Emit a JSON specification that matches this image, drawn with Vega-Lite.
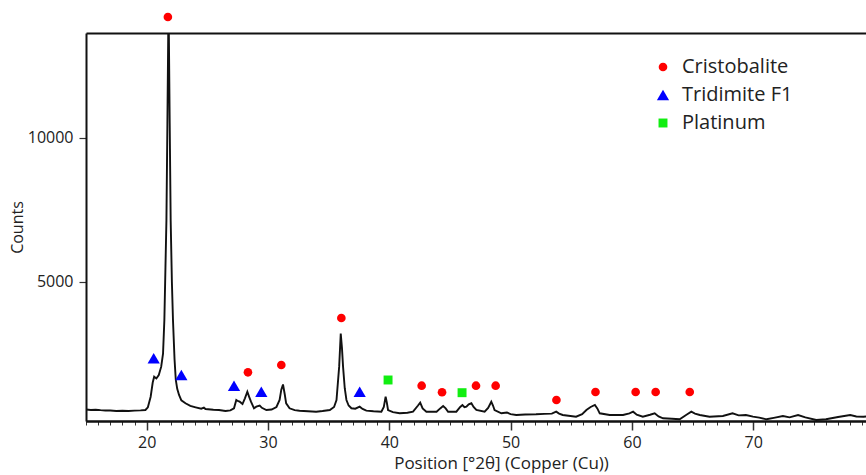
{
  "$schema": "https://vega.github.io/schema/vega-lite/v6.json",
  "autosize": {"type": "none"},
  "padding": {"left": 86, "top": 33, "right": 0, "bottom": 54},
  "width": 780,
  "height": 388,
  "config": {
    "font": "Open Sans",
    "view": {"stroke": null},
    "axis": {"grid": false, "domainColor": "#111111", "domainWidth": 2, "tickColor": "#333333", "labelColor": "#222222", "titleColor": "#222222", "titleFontWeight": "normal"}
  },
  "datasets": {
    "spectrum": [
      {"pos": 15.0, "counts": 560}, {"pos": 15.4, "counts": 545}, {"pos": 15.8, "counts": 555}, {"pos": 16.2, "counts": 540},
      {"pos": 16.6, "counts": 530}, {"pos": 17.0, "counts": 525}, {"pos": 17.5, "counts": 512}, {"pos": 18.0, "counts": 518},
      {"pos": 18.5, "counts": 510}, {"pos": 19.0, "counts": 525}, {"pos": 19.5, "counts": 532}, {"pos": 19.9, "counts": 545},
      {"pos": 20.1, "counts": 640}, {"pos": 20.33, "counts": 1007}, {"pos": 20.5, "counts": 1500}, {"pos": 20.62, "counts": 1700},
      {"pos": 20.8, "counts": 1640}, {"pos": 21.0, "counts": 1760}, {"pos": 21.2, "counts": 2050}, {"pos": 21.35, "counts": 2500},
      {"pos": 21.46, "counts": 3670}, {"pos": 21.55, "counts": 5500}, {"pos": 21.63, "counts": 7135}, {"pos": 21.71, "counts": 10500},
      {"pos": 21.78, "counts": 13635}, {"pos": 21.83, "counts": 13635}, {"pos": 21.9, "counts": 10500}, {"pos": 21.98, "counts": 7135},
      {"pos": 22.08, "counts": 5000}, {"pos": 22.17, "counts": 3670}, {"pos": 22.3, "counts": 2300}, {"pos": 22.4, "counts": 1600},
      {"pos": 22.52, "counts": 1280}, {"pos": 22.67, "counts": 1066}, {"pos": 22.86, "counts": 880}, {"pos": 23.2, "counts": 778},
      {"pos": 23.6, "counts": 690}, {"pos": 24.04, "counts": 639}, {"pos": 24.5, "counts": 590}, {"pos": 24.72, "counts": 625},
      {"pos": 24.85, "counts": 580}, {"pos": 25.5, "counts": 555}, {"pos": 25.96, "counts": 545}, {"pos": 26.5, "counts": 510},
      {"pos": 26.9, "counts": 530}, {"pos": 27.2, "counts": 604}, {"pos": 27.39, "counts": 892}, {"pos": 27.55, "counts": 850},
      {"pos": 27.67, "counts": 833}, {"pos": 27.9, "counts": 753}, {"pos": 28.1, "counts": 950}, {"pos": 28.3, "counts": 1180},
      {"pos": 28.45, "counts": 1000}, {"pos": 28.6, "counts": 833}, {"pos": 28.85, "counts": 604}, {"pos": 29.04, "counts": 660},
      {"pos": 29.32, "counts": 700}, {"pos": 29.5, "counts": 620}, {"pos": 29.87, "counts": 545}, {"pos": 30.3, "counts": 560},
      {"pos": 30.7, "counts": 650}, {"pos": 30.96, "counts": 892}, {"pos": 31.1, "counts": 1250}, {"pos": 31.24, "counts": 1430},
      {"pos": 31.38, "counts": 1100}, {"pos": 31.5, "counts": 778}, {"pos": 31.78, "counts": 604}, {"pos": 32.2, "counts": 540},
      {"pos": 32.6, "counts": 521}, {"pos": 33.3, "counts": 500}, {"pos": 33.97, "counts": 486}, {"pos": 34.5, "counts": 510},
      {"pos": 35.1, "counts": 545}, {"pos": 35.45, "counts": 650}, {"pos": 35.65, "counts": 892}, {"pos": 35.87, "counts": 2050},
      {"pos": 36.0, "counts": 3200}, {"pos": 36.1, "counts": 2700}, {"pos": 36.19, "counts": 2050}, {"pos": 36.33, "counts": 1300},
      {"pos": 36.47, "counts": 892}, {"pos": 36.65, "counts": 700}, {"pos": 36.88, "counts": 604}, {"pos": 37.2, "counts": 590},
      {"pos": 37.56, "counts": 660}, {"pos": 37.8, "counts": 580}, {"pos": 38.11, "counts": 521}, {"pos": 38.7, "counts": 500},
      {"pos": 39.35, "counts": 486}, {"pos": 39.55, "counts": 650}, {"pos": 39.7, "counts": 1007}, {"pos": 39.8, "counts": 800},
      {"pos": 39.9, "counts": 545}, {"pos": 40.3, "counts": 470}, {"pos": 40.86, "counts": 430}, {"pos": 41.5, "counts": 450},
      {"pos": 41.96, "counts": 486}, {"pos": 42.37, "counts": 700}, {"pos": 42.55, "counts": 800}, {"pos": 42.75, "counts": 600},
      {"pos": 43.06, "counts": 486}, {"pos": 43.9, "counts": 486}, {"pos": 44.2, "counts": 600}, {"pos": 44.44, "counts": 684},
      {"pos": 44.65, "counts": 600}, {"pos": 44.85, "counts": 486}, {"pos": 45.53, "counts": 486}, {"pos": 45.85, "counts": 650},
      {"pos": 46.03, "counts": 719}, {"pos": 46.2, "counts": 640}, {"pos": 46.36, "counts": 660}, {"pos": 46.55, "counts": 740},
      {"pos": 46.77, "counts": 778}, {"pos": 46.95, "counts": 650}, {"pos": 47.18, "counts": 545}, {"pos": 47.86, "counts": 486},
      {"pos": 48.15, "counts": 620}, {"pos": 48.41, "counts": 833}, {"pos": 48.55, "counts": 700}, {"pos": 48.68, "counts": 545},
      {"pos": 49.24, "counts": 430}, {"pos": 49.7, "counts": 460}, {"pos": 50.0, "counts": 400}, {"pos": 50.47, "counts": 372},
      {"pos": 51.2, "counts": 390}, {"pos": 52.1, "counts": 396}, {"pos": 52.8, "counts": 410}, {"pos": 53.4, "counts": 420},
      {"pos": 53.76, "counts": 486}, {"pos": 54.0, "counts": 420}, {"pos": 54.3, "counts": 372}, {"pos": 55.4, "counts": 313},
      {"pos": 55.9, "counts": 400}, {"pos": 56.25, "counts": 545}, {"pos": 56.6, "counts": 650}, {"pos": 56.95, "counts": 720},
      {"pos": 57.15, "counts": 600}, {"pos": 57.35, "counts": 430}, {"pos": 58.17, "counts": 372}, {"pos": 59.27, "counts": 372},
      {"pos": 59.8, "counts": 430}, {"pos": 60.1, "counts": 486}, {"pos": 60.4, "counts": 380}, {"pos": 60.9, "counts": 313},
      {"pos": 61.5, "counts": 380}, {"pos": 61.88, "counts": 430}, {"pos": 62.2, "counts": 320}, {"pos": 62.57, "counts": 257},
      {"pos": 63.3, "counts": 240}, {"pos": 63.94, "counts": 222}, {"pos": 64.5, "counts": 380}, {"pos": 64.9, "counts": 486},
      {"pos": 65.2, "counts": 420}, {"pos": 65.6, "counts": 372}, {"pos": 66.4, "counts": 313}, {"pos": 67.5, "counts": 337},
      {"pos": 68.3, "counts": 430}, {"pos": 68.8, "counts": 360}, {"pos": 69.4, "counts": 372}, {"pos": 69.98, "counts": 313},
      {"pos": 70.5, "counts": 280}, {"pos": 71.1, "counts": 222}, {"pos": 71.8, "counts": 280}, {"pos": 72.45, "counts": 337},
      {"pos": 73.0, "counts": 290}, {"pos": 73.7, "counts": 372}, {"pos": 74.3, "counts": 290}, {"pos": 75.2, "counts": 198},
      {"pos": 76.0, "counts": 222}, {"pos": 77.0, "counts": 300}, {"pos": 78.0, "counts": 372}, {"pos": 78.5, "counts": 320},
      {"pos": 79.1, "counts": 313}, {"pos": 79.3, "counts": 320}
    ],
    "markers": [
      {"phase": "Cristobalite", "pos": 21.75, "counts": 14190},
      {"phase": "Cristobalite", "pos": 28.35, "counts": 1854},
      {"phase": "Cristobalite", "pos": 31.1, "counts": 2108},
      {"phase": "Cristobalite", "pos": 36.05, "counts": 3740},
      {"phase": "Cristobalite", "pos": 42.67, "counts": 1389},
      {"phase": "Cristobalite", "pos": 44.35, "counts": 1160},
      {"phase": "Cristobalite", "pos": 47.15, "counts": 1389},
      {"phase": "Cristobalite", "pos": 48.77, "counts": 1389},
      {"phase": "Cristobalite", "pos": 53.78, "counts": 892},
      {"phase": "Cristobalite", "pos": 57.0, "counts": 1170},
      {"phase": "Cristobalite", "pos": 60.31, "counts": 1170},
      {"phase": "Cristobalite", "pos": 61.96, "counts": 1170},
      {"phase": "Cristobalite", "pos": 64.77, "counts": 1170},
      {"phase": "Tridimite F1", "pos": 20.58, "counts": 2340},
      {"phase": "Tridimite F1", "pos": 22.86, "counts": 1760},
      {"phase": "Tridimite F1", "pos": 27.2, "counts": 1389},
      {"phase": "Tridimite F1", "pos": 29.45, "counts": 1181},
      {"phase": "Tridimite F1", "pos": 37.56, "counts": 1181},
      {"phase": "Platinum", "pos": 39.9, "counts": 1587},
      {"phase": "Platinum", "pos": 46.0, "counts": 1146}
    ]
  },
  "encoding": {
    "y": {"field": "counts", "type": "quantitative", "scale": {"domain": [163, 13635], "nice": false, "zero": false},
      "axis": {"values": [5000, 10000], "tickSize": 7, "tickWidth": 1.2, "labelFontSize": 16, "labelPadding": 6,
        "title": "Counts", "titleFontSize": 16, "titlePadding": 2, "format": "d"}}
  },
  "resolve": {"axis": {"x": "independent"}},
  "layer": [
    {
      "data": {"name": "spectrum"},
      "mark": {"type": "line", "color": "#111111", "strokeWidth": 1.9, "clip": true},
      "encoding": {
        "x": {"field": "pos", "type": "quantitative", "scale": {"domain": [15, 79.3], "nice": false, "zero": false},
          "axis": {"orient": "bottom", "values": [15,16,17,18,19,20,21,22,23,24,25,26,27,28,29,30,31,32,33,34,35,36,37,38,39,40,41,42,43,44,45,46,47,48,49,50,51,52,53,54,55,56,57,58,59,60,61,62,63,64,65,66,67,68,69,70,71,72,73,74,75,76,77,78,79],
            "labels": false, "title": null, "tickSize": 4, "tickWidth": 1}}
      }
    },
    {
      "data": {"name": "spectrum"},
      "mark": {"type": "line", "strokeOpacity": 0, "clip": true},
      "encoding": {
        "x": {"field": "pos", "type": "quantitative", "axis": {"orient": "top", "labels": false, "ticks": false, "title": null}}
      }
    },
    {
      "data": {"name": "markers"},
      "mark": {"type": "point", "filled": true, "opacity": 1},
      "encoding": {
        "x": {"field": "pos", "type": "quantitative",
          "axis": {"orient": "bottom", "values": [20, 30, 40, 50, 60, 70], "tickSize": 9, "tickWidth": 1.5,
            "labelFontSize": 16, "labelPadding": 4, "title": "Position [°2θ] (Copper (Cu))", "titleFontSize": 17, "titlePadding": 5, "titleX": 415}},
        "color": {"field": "phase", "type": "nominal",
          "scale": {"domain": ["Cristobalite", "Tridimite F1", "Platinum"], "range": ["#ff0000", "#0000ff", "#11ee11"]},
          "legend": {"orient": "none", "legendX": 567, "legendY": 24, "title": null, "labelFontSize": 20, "labelOffset": 9, "rowPadding": 8, "labelColor": "#222222"}},
        "shape": {"field": "phase", "type": "nominal",
          "scale": {"domain": ["Cristobalite", "Tridimite F1", "Platinum"], "range": ["circle", "triangle-up", "square"]}},
        "size": {"field": "phase", "type": "nominal",
          "scale": {"type": "ordinal", "domain": ["Cristobalite", "Tridimite F1", "Platinum"], "range": [75, 150, 80]}}
      }
    }
  ]
}
